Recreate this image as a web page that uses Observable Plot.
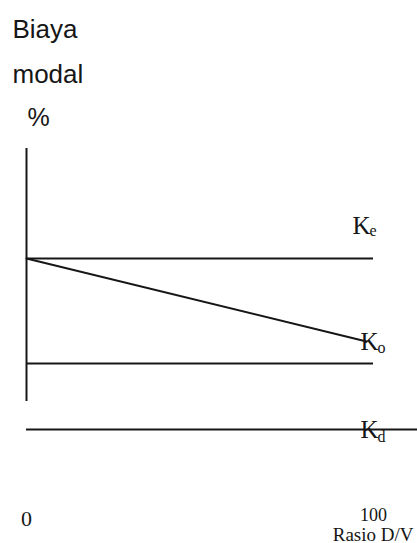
<!DOCTYPE html>
<html>
<head>
<meta charset="utf-8">
<script src="https://cdn.jsdelivr.net/npm/d3@7"></script>
<script src="https://cdn.jsdelivr.net/npm/@observablehq/plot@0.6"></script>
<style>
  html, body { margin: 0; padding: 0; background: #fff; }
  #chart svg { display: block; }
</style>
</head>
<body>
<div id="chart"></div>
<script>
// ---- data (arbitrary % units) ----
const titleLines = ["Biaya", "modal", "%"];
const xTickValues = [0, 100];          // D/V ratio tick positions
const xTickLabels = ["0", "100"];
const xAxisTitle = "Rasio D/V";
const axisSpan = [11.7, 37];           // vertical axis extent (cost %)
const keX = [0, 100];  const keY = [26, 26];       // cost of equity
const koX = [0, 98];   const koY = [26, 17.7];     // overall cost of capital
const lowX = [0, 100]; const lowY = [15.5, 15.5];  // unlabelled horizontal line
const kdX = [0, 113];  const kdY = [8.9, 8.9];     // cost of debt
const labels = [
  {main: "K", sub: "e"},
  {main: "K", sub: "o"},
  {main: "K", sub: "d"}
];

const ink = "#161616";
const serif = "'Liberation Serif', 'Times New Roman', serif";
const sans = "'Liberation Sans', Arial, sans-serif";

const keRow = [{x: keX[1], y: keY[1]}];
const koRow = [{x: koX[1], y: koY[1]}];
const kdRow = [{x: keX[1], y: kdY[1]}];

const chart = Plot.plot({
  width: 417,
  height: 543,
  margin: 0,
  x: {domain: [0, 100], range: [26, 373], axis: null},
  y: {domain: [0, 37], range: [518, 148], axis: null},
  marks: [
    // vertical axis
    Plot.ruleX([xTickValues[0]], {y1: axisSpan[0], y2: axisSpan[1], stroke: ink, strokeWidth: 2}),
    // Ke
    Plot.ruleY([keY[0]], {x1: keX[0], x2: keX[1], stroke: ink, strokeWidth: 2}),
    // Ko
    Plot.line(koX.map((x, i) => ({x, y: koY[i]})), {x: "x", y: "y", stroke: ink, strokeWidth: 2}),
    // lower horizontal
    Plot.ruleY([lowY[0]], {x1: lowX[0], x2: lowX[1], stroke: ink, strokeWidth: 2}),
    // Kd
    Plot.ruleY([kdY[0]], {x1: kdX[0], x2: kdX[1], stroke: ink, strokeWidth: 2}),

    // series labels
    Plot.text(keRow, {x: "x", y: "y", text: () => labels[0].main, textAnchor: "start", lineAnchor: "bottom", dx: -21, dy: -25, fontSize: 25, fontFamily: serif, fill: ink}),
    Plot.text(keRow, {x: "x", y: "y", text: () => labels[0].sub, textAnchor: "start", lineAnchor: "bottom", dx: -4, dy: -23, fontSize: 16, fontFamily: serif, fill: ink}),
    Plot.text(koRow, {x: "x", y: "y", text: () => labels[1].main, textAnchor: "start", lineAnchor: "bottom", dx: -6, dy: 8, fontSize: 25, fontFamily: serif, fill: ink}),
    Plot.text(koRow, {x: "x", y: "y", text: () => labels[1].sub, textAnchor: "start", lineAnchor: "bottom", dx: 11, dy: 11, fontSize: 16, fontFamily: serif, fill: ink}),
    Plot.text(kdRow, {x: "x", y: "y", text: () => labels[2].main, textAnchor: "start", lineAnchor: "bottom", dx: -13, dy: 8, fontSize: 25, fontFamily: serif, fill: ink}),
    Plot.text(kdRow, {x: "x", y: "y", text: () => labels[2].sub, textAnchor: "start", lineAnchor: "bottom", dx: 4, dy: 12, fontSize: 16, fontFamily: serif, fill: ink}),

    // x tick labels
    Plot.text([xTickValues[0]], {x: d => d, y: 0, text: () => xTickLabels[0], textAnchor: "middle", lineAnchor: "bottom", dy: 7, fontSize: 22, fontFamily: serif, fill: ink}),
    Plot.text([xTickValues[1]], {x: d => d, y: 0, text: () => xTickLabels[1], textAnchor: "middle", lineAnchor: "bottom", dy: 2, fontSize: 18, fontFamily: serif, fill: ink}),
    Plot.text([xTickValues[1]], {x: d => d, y: 0, text: () => xAxisTitle, textAnchor: "end", lineAnchor: "bottom", dx: 40, dy: 22, fontSize: 19, fontFamily: serif, fill: ink}),

    // y title lines
    Plot.text([titleLines[0]], {frameAnchor: "top-left", text: d => d, textAnchor: "start", lineAnchor: "bottom", dx: 12, dy: 37, fontSize: 26, fontFamily: sans, fill: ink}),
    Plot.text([titleLines[1]], {frameAnchor: "top-left", text: d => d, textAnchor: "start", lineAnchor: "bottom", dx: 12, dy: 82, fontSize: 26, fontFamily: sans, fill: ink}),
    Plot.text([titleLines[2]], {frameAnchor: "top-left", text: d => d, textAnchor: "start", lineAnchor: "bottom", dx: 27, dy: 125, fontSize: 25, fontFamily: sans, fill: ink})
  ]
});
document.getElementById("chart").append(chart);
</script>
</body>
</html>
